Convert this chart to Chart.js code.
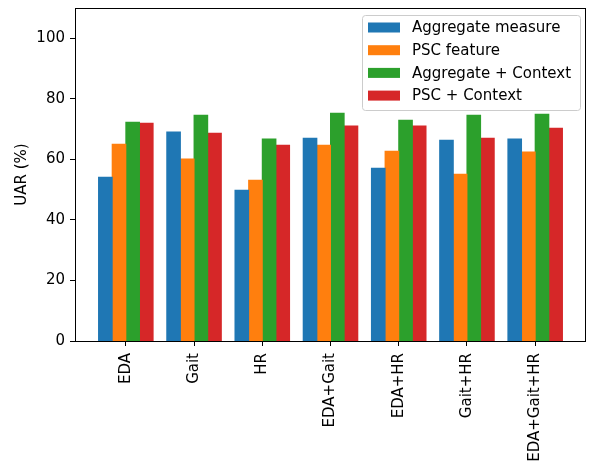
<!DOCTYPE html>
<html>
<head>
<meta charset="utf-8">
<script src="https://cdn.jsdelivr.net/npm/chart.js@4.4.1/dist/chart.umd.min.js"></script>
<style>
  html, body { margin: 0; padding: 0; background: #fff; }
  #wrap { width: 594px; height: 464px; }
</style>
</head>
<body>
<div id="wrap"><canvas id="uarChart" width="594" height="464"></canvas></div>
<script>
const categories = ['EDA', 'Gait', 'HR', 'EDA+Gait', 'EDA+HR', 'Gait+HR', 'EDA+Gait+HR'];
const aggregateMeasure = [54.1, 69.0, 49.8, 67.0, 57.1, 66.3, 66.7];
const pscFeature = [65.0, 60.1, 53.1, 64.7, 62.7, 55.1, 62.4];
const aggregateContext = [72.3, 74.6, 66.7, 75.2, 72.9, 74.6, 74.9];
const pscContext = [71.9, 68.6, 64.7, 71.0, 71.0, 67.0, 70.3];
const yTicks = [0, 20, 40, 60, 80, 100];

const FONT = "'DejaVu Sans', sans-serif";

function toPoints(values) {
  return values.map((v, i) => ({ x: i, y: v }));
}

const seriesDefs = [
  { label: 'Aggregate measure', data: aggregateMeasure, color: '#1f77b4' },
  { label: 'PSC feature', data: pscFeature, color: '#ff7f0e' },
  { label: 'Aggregate + Context', data: aggregateContext, color: '#2ca02c' },
  { label: 'PSC + Context', data: pscContext, color: '#d62728' },
];

// frame around the plot + matplotlib-like legend box
const framePlugin = {
  id: 'frame',
  afterDraw(chart) {
    const { ctx, chartArea: a } = chart;
    ctx.save();
    ctx.strokeStyle = '#000';
    ctx.lineWidth = 1;
    ctx.strokeRect(Math.round(a.left) + 0.5, Math.round(a.top) + 0.5,
      Math.round(a.right - a.left) - 1, Math.round(a.bottom - a.top));

    // legend
    const bx = 362.5, by = 15.5, bw = 218, bh = 95;
    ctx.fillStyle = 'rgba(255,255,255,0.8)';
    ctx.strokeStyle = '#cccccc';
    ctx.beginPath();
    ctx.roundRect(bx, by, bw, bh, 3);
    ctx.fill();
    ctx.stroke();
    ctx.font = '15px ' + FONT;
    ctx.textBaseline = 'middle';
    chart.data.datasets.forEach((ds, i) => {
      const cy = 27.5 + i * 22.7;
      ctx.fillStyle = ds.backgroundColor;
      ctx.fillRect(368, cy - 5, 32, 10);
      ctx.fillStyle = '#000';
      ctx.fillText(ds.label, 412, cy + 1);
    });
    ctx.restore();
  }
};

const chartConfig = {
  type: 'bar',
  data: {
    datasets: seriesDefs.map(s => ({
      label: s.label,
      data: toPoints(s.data),
      backgroundColor: s.color,
      borderWidth: 0,
      inflateAmount: 0.5,
      categoryPercentage: 0.8,
      barPercentage: 1.0,
    })),
  },
  options: {
    responsive: false,
    animation: false,
    layout: { padding: { top: 8, right: 8, left: 0, bottom: 0 } },
    plugins: {
      legend: { display: false },
      tooltip: { enabled: false },
    },
    scales: {
      x: {
        type: 'linear',
        min: -0.745,
        max: 6.745,
        offset: false,
        afterBuildTicks(scale) {
          scale.ticks = categories.map((c, i) => ({ value: i }));
        },
        afterFit(scale) {
          scale.height = 123;
          scale.paddingLeft = 0;
          scale.paddingRight = 0;
        },
        grid: {
          offset: false,
          drawOnChartArea: false,
          drawTicks: true,
          tickLength: 5,
          tickColor: '#000',
        },
        border: { display: false },
        ticks: {
          autoSkip: false,
          minRotation: 90,
          maxRotation: 90,
          padding: 7,
          color: '#000',
          font: { family: FONT, size: 15 },
          callback: (v) => categories[v] !== undefined ? categories[v] : '',
        },
      },
      y: {
        min: 0,
        max: 110,
        afterBuildTicks(scale) {
          scale.ticks = yTicks.map(v => ({ value: v }));
        },
        afterFit(scale) {
          scale.width = 75;
          scale.paddingTop = 0;
          scale.paddingBottom = 0;
        },
        grid: {
          drawOnChartArea: false,
          drawTicks: true,
          tickLength: 5,
          tickColor: '#000',
        },
        border: { display: false },
        title: {
          display: true,
          text: 'UAR (%)',
          color: '#000',
          font: { family: FONT, size: 15 },
          padding: { top: 13, bottom: 4 },
        },
        ticks: {
          padding: 5,
          color: '#000',
          font: { family: FONT, size: 15 },
        },
      },
    },
  },
  plugins: [framePlugin],
};

const ctx = document.getElementById('uarChart').getContext('2d');
new Chart(ctx, chartConfig);
</script>
</body>
</html>
